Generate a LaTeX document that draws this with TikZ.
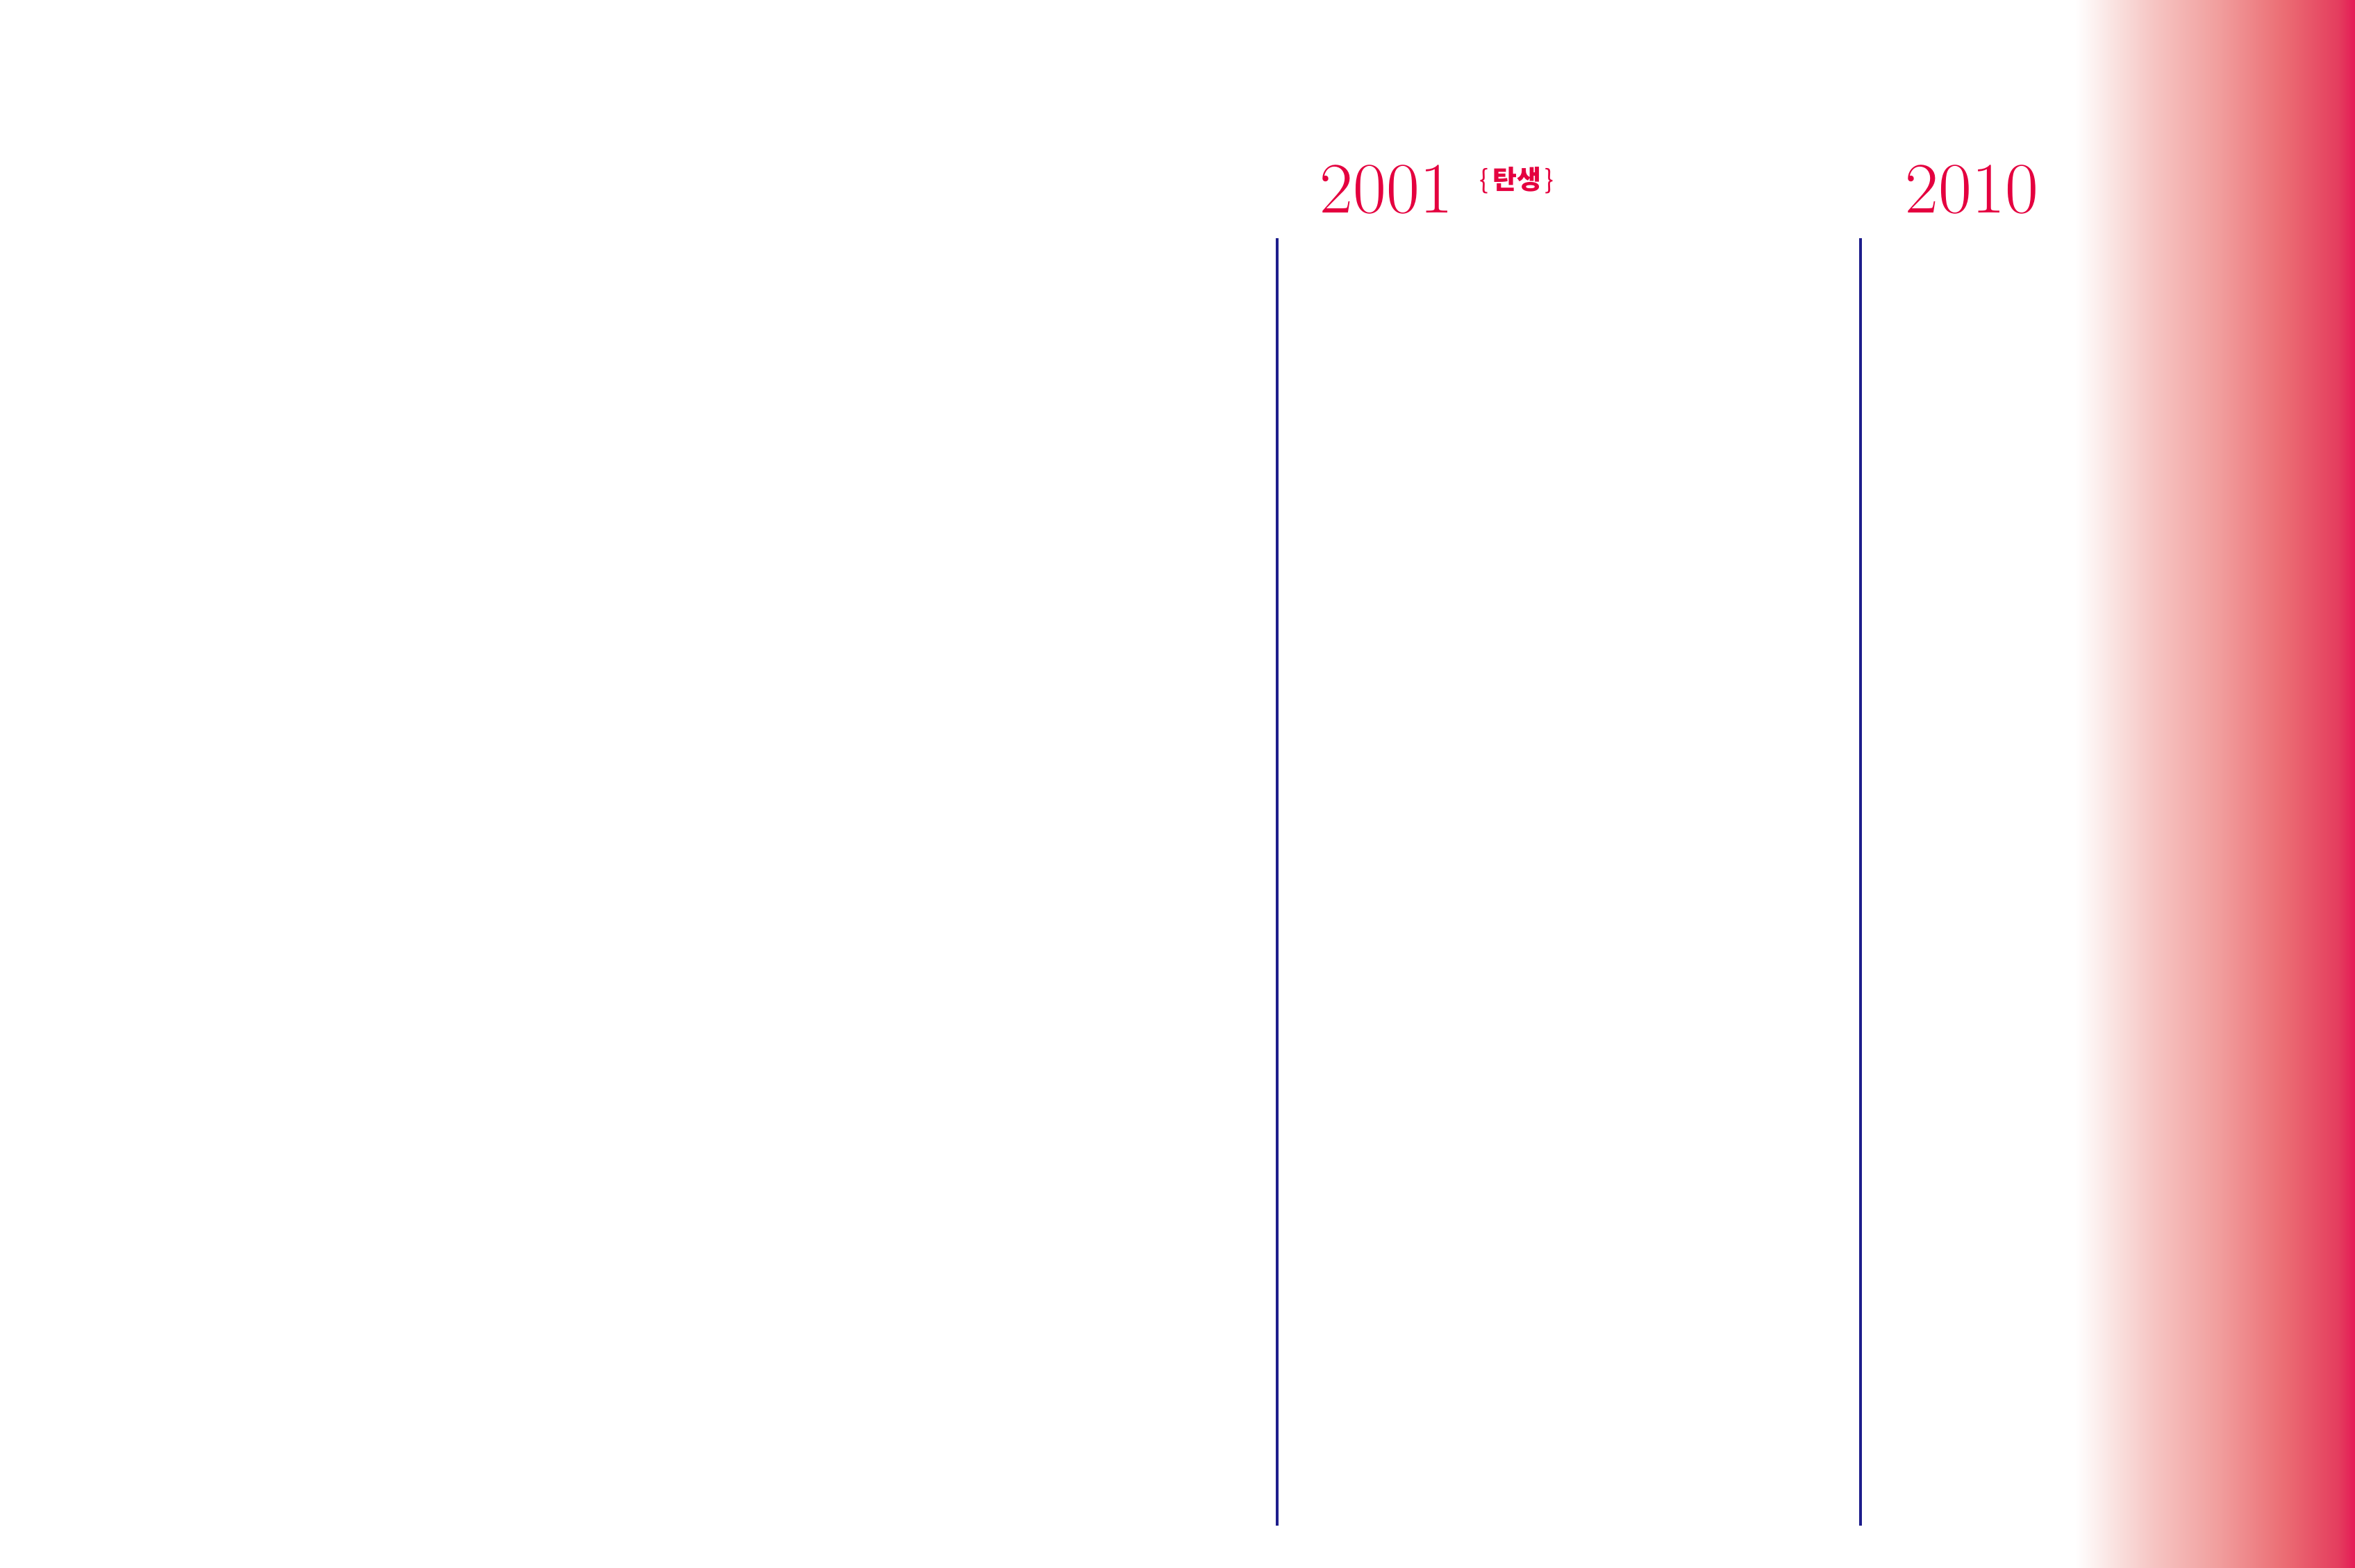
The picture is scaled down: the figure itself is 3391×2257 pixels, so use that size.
\documentclass[tikz,border=0pt]{standalone}
\usepackage{fontspec}
\newfontfamily\krfont{Noto Sans CJK KR}
\usetikzlibrary{positioning}

\definecolor{yearred}{HTML}{E4003F}
\definecolor{rulenavy}{HTML}{1E1E8C}
\definecolor{fadeA}{HTML}{FAE4E2}
\definecolor{fadeB}{HTML}{F6C5C3}
\definecolor{fadeC}{HTML}{F1A09F}
\definecolor{fadeD}{HTML}{EB6C73}
\definecolor{fadeE}{HTML}{E43D5E}
\definecolor{fadeF}{HTML}{E41A55}

\pgfdeclarehorizontalshading{edgefade}{100bp}{%
  color(0bp)=(white); color(25bp)=(white); color(31.5bp)=(fadeA);
  color(38.9bp)=(fadeB); color(50.1bp)=(fadeC); color(62.5bp)=(fadeD);
  color(72bp)=(fadeE); color(75bp)=(fadeF); color(100bp)=(fadeF)}

\begin{document}
\begin{tikzpicture}[x=0.01cm, y=-0.01cm,
    year/.style={text=yearred, font=\fontsize{29.6}{30}\selectfont,
      inner sep=0pt, anchor=base west},
    tag/.style={text=yearred, font=\krfont\fontsize{10.8}{11}\selectfont,
      inner sep=0pt},
    era/.style={rulenavy, line width=0.04cm}]
  \useasboundingbox (0,0) rectangle (3391,2257);

  % fade strip at the right edge
  \shade[shading=edgefade] (2988,0) rectangle (3391,2257);

  % period rules
  \coordinate (rule1top) at (1839,343);
  \coordinate (rule1bot) at (1839,2197);
  \coordinate (rule2top) at (2679,343);
  \coordinate (rule2bot) at (2679,2197);
  \draw[era] (rule1top) -- (rule1bot);
  \draw[era] (rule2top) -- (rule2bot);

  % years
  \node[year] (y2001) at (1900,306) {2001};
  \node[tag, anchor=north west] (born) at (2130,240)
    {\{\hspace{1.6pt}{\bfseries 탄생}\hspace{1.6pt}\}};
  \node[year] (y2010) at (2743,306) {2010};
\end{tikzpicture}
\end{document}
